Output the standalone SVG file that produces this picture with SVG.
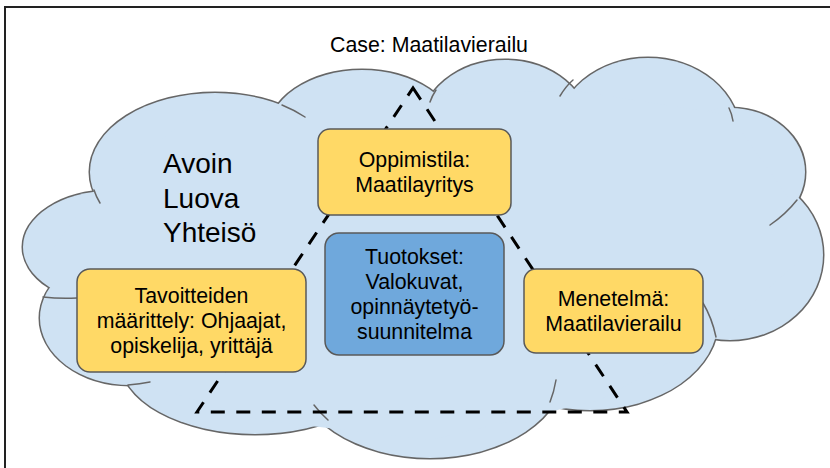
<svg xmlns="http://www.w3.org/2000/svg" width="830" height="468" viewBox="0 0 830 468">
  <style>
    .lobe-line { fill: none; stroke: #666666; stroke-width: 3; }
    .lobe-fill { fill: #cfe2f3; stroke: none; }
    .tick { fill: none; stroke: #666666; stroke-width: 1.5; stroke-linecap: round; }
    .box-y { fill: #ffd966; stroke: #595959; stroke-width: 1.5; }
    .box-b { fill: #6fa8dc; stroke: #595959; stroke-width: 1.5; }
    .label { font-family: "Liberation Sans", Arial, sans-serif; font-size: 21.33px; fill: #000000; text-anchor: middle; }
    .big { font-family: "Liberation Sans", Arial, sans-serif; font-size: 28px; fill: #000000; }
  </style>
  <defs>
    <g id="lobes">
      <ellipse cx="648" cy="135" rx="92" ry="77"/>
      <ellipse cx="505" cy="130" rx="85" ry="70"/>
      <ellipse cx="362" cy="135" rx="95" ry="65"/>
      <ellipse cx="215" cy="172" rx="125" ry="79"/>
      <ellipse cx="110" cy="247" rx="87" ry="56"/>
      <ellipse cx="130" cy="318" rx="90" ry="67"/>
      <ellipse cx="255" cy="359" rx="135" ry="75"/>
      <ellipse cx="430" cy="368" rx="135" ry="90"/>
      <ellipse cx="590" cy="320" rx="128" ry="90"/>
      <ellipse cx="730" cy="255" rx="93" ry="85"/>
      <ellipse cx="730" cy="172" rx="75" ry="64"/>
    </g>
  </defs>

  <!-- outer frame -->
  <path d="M5,468 V7 H830" fill="none" stroke="#222222" stroke-width="2"/>

  <!-- heading -->
  <text class="label" x="429" y="52">Case: Maatilavierailu</text>

  <!-- cloud -->
  <g id="cloud">
    <use href="#lobes" class="lobe-line"/>
    <use href="#lobes" class="lobe-fill"/>
    <polygon class="lobe-fill" points="300,115 440,95 570,90 730,115 790,200 800,260 715,337 600,400 430,440 260,420 130,380 60,330 45,260 95,190 200,110"/>
    <path class="tick" d="M94,190 A125 79 0 0 0 100,203"/>
    <path class="tick" d="M282,105 A125 79 0 0 1 305,117"/>
    <path class="tick" d="M430,102 Q432,96 436,90"/>
    <path class="tick" d="M560,96 Q566,86 573,80"/>
    <path class="tick" d="M729,108 Q732,114 733,121"/>
    <path class="tick" d="M797,200 Q786,214 770,225"/>
    <path class="tick" d="M716,337 Q712,318 703,303"/>
    <path class="tick" d="M550,402 Q554,392 556,380"/>
    <path class="tick" d="M314,405 Q320,413 328,420"/>
    <path class="tick" d="M128,385 Q140,384 150,382"/>
    <path class="tick" d="M43,297 Q60,299 77,298"/>
    <text class="big" x="163" y="173">Avoin</text>
    <text class="big" x="163" y="208">Luova</text>
    <text class="big" x="163" y="242">Yhteisö</text>
  </g>

  <!-- connectors: dashed triangle -->
  <g id="connectors">
    <polygon points="413,88 627,412 197,412" fill="none" stroke="#000000" stroke-width="3" stroke-dasharray="14 11.5" stroke-linejoin="miter"/>
  </g>

  <g id="oppimistila">
    <rect class="box-y" x="318" y="129" width="193" height="86" rx="12"/>
    <text class="label" x="414.5" y="167">Oppimistila:</text>
    <text class="label" x="414.5" y="191.5">Maatilayritys</text>
  </g>

  <g id="tuotokset">
    <rect class="box-b" x="325" y="233" width="179" height="122" rx="14"/>
    <text class="label" x="414.5" y="264">Tuotokset:</text>
    <text class="label" x="414.5" y="289">Valokuvat,</text>
    <text class="label" x="414.5" y="314">opinnäytetyö-</text>
    <text class="label" x="414.5" y="339">suunnitelma</text>
  </g>

  <g id="tavoitteet">
    <rect class="box-y" x="77" y="269" width="229" height="103" rx="13"/>
    <text class="label" x="191.5" y="303">Tavoitteiden</text>
    <text class="label" x="191.5" y="328">määrittely: Ohjaajat,</text>
    <text class="label" x="191.5" y="352.5">opiskelija, yrittäjä</text>
  </g>

  <g id="menetelma">
    <rect class="box-y" x="524" y="269" width="179" height="84" rx="12"/>
    <text class="label" x="613.5" y="306">Menetelmä:</text>
    <text class="label" x="613.5" y="331">Maatilavierailu</text>
  </g>
</svg>
